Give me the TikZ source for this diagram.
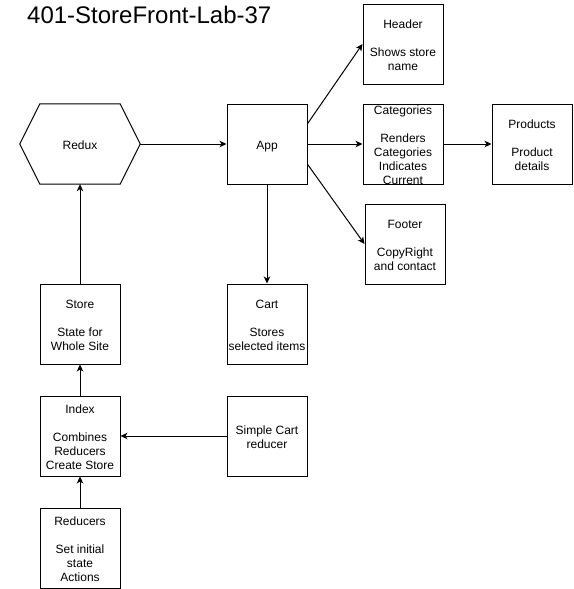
\documentclass[tikz,border=0pt]{standalone}
\usepackage{fontspec}
\setmainfont{Liberation Sans}
\usetikzlibrary{arrows.meta,calc}
\newcommand\tstr{\rule{0pt}{13.1pt}}
\newcommand\bstr{\rule[-2.5pt]{0pt}{0pt}}
\begin{document}
\begin{tikzpicture}[x=1pt,y=-1pt,
  every node/.style={font=\fontsize{12}{14}\selectfont},
  box/.style={draw, line width=1pt, minimum width=80pt, minimum height=80pt, inner sep=0pt, align=center},
  txt/.style={inner sep=0pt, align=center},
  conn/.style={line width=1pt, -{Stealth[length=7pt,width=6.5pt,inset=2pt]}}]
\useasboundingbox (0,0) rectangle (573,589);
\node[anchor=west, inner sep=0pt, font=\fontsize{24}{28}\selectfont] (title) at (27,15) {401-StoreFront-Lab-37};
% Redux hexagon
\node[txt, minimum width=120pt, minimum height=80pt] (redux) at (80,144) {\tstr Redux\bstr};
\draw[line width=1pt, line join=miter] (redux.west) -- ($(redux.north west)+(20,0)$) -- ($(redux.north east)+(-20,0)$) -- (redux.east) -- ($(redux.south east)+(-20,0)$) -- ($(redux.south west)+(20,0)$) -- cycle;
\node[box] (app) at (267,144) {\tstr App\bstr};
\node[box] (header) at (403,44) {\tstr Header\\[14pt]Shows store\\name\bstr};
\node[draw, line width=1pt, minimum width=80pt, minimum height=80pt, inner sep=0pt] (cat) at (403,144) {};
\node[txt] (cattext) at (cat.center) {\tstr Categories\\[14pt]Renders\\Categories\\Indicates\\Current\bstr};
\node[box] (products) at (532,144) {\tstr Products\\[14pt]Product\\details\bstr};
\node[box] (footer) at (405,244) {\tstr Footer\\[14pt]CopyRight\\and contact\bstr};
\node[box] (store) at (80,324) {\tstr Store\\[14pt]State for\\Whole Site\bstr};
\node[box] (cart) at (267,324) {\tstr Cart\\[14pt]Stores\\selected items\bstr};
\node[box] (index) at (80,436) {\tstr Index\\[14pt]Combines\\Reducers\\Create Store\bstr};
\node[box] (simple) at (267,436) {\tstr Simple Cart\\reducer\bstr};
\node[box] (reducers) at (80,548) {\tstr Reducers\\[14pt]Set initial\\state\\Actions\bstr};
% connectors
\draw[conn] (redux.east) -- (app.west);
\draw[conn] ($(app.north east)!0.25!(app.south east)$) -- (header.west);
\draw[conn] (app.east) -- (cat.west);
\draw[conn] ($(app.north east)!0.75!(app.south east)$) -- (footer.west);
\draw[conn] (cat.east) -- (products.west);
\draw[conn] (app.south) -- (cart.north);
\draw[conn] (store.north) -- (redux.south);
\draw[conn] (index.north) -- (store.south);
\draw[conn] (reducers.north) -- (index.south);
\draw[conn] (simple.west) -- (index.east);
\end{tikzpicture}
\end{document}
